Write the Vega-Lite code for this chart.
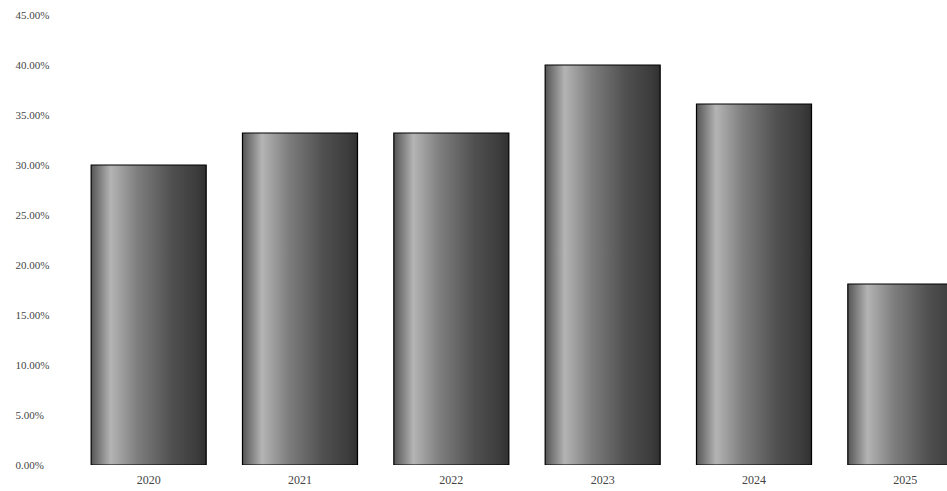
{
  "$schema": "https://vega.github.io/schema/vega-lite/v6.json",
  "autosize": "none",
  "width": 874,
  "height": 450,
  "padding": {"left": 73, "top": 15, "right": 0, "bottom": 26},
  "background": "white",
  "config": {"view": {"stroke": null}, "font": "Liberation Serif"},
  "data": {"values": [
    {"year": "2020", "share": 0.300},
    {"year": "2021", "share": 0.332},
    {"year": "2022", "share": 0.332},
    {"year": "2023", "share": 0.400},
    {"year": "2024", "share": 0.361},
    {"year": "2025", "share": 0.181}
  ]},
  "mark": {
    "type": "bar",
    "clip": true,
    "stroke": "#000000",
    "strokeWidth": 1.2,
    "color": {
      "gradient": "linear", "x1": 0, "x2": 1, "y1": 0, "y2": 0,
      "stops": [
        {"offset": 0, "color": "#555555"},
        {"offset": 0.17, "color": "#b4b4b4"},
        {"offset": 0.4, "color": "#7e7e7e"},
        {"offset": 0.7, "color": "#505050"},
        {"offset": 0.92, "color": "#3c3c3c"},
        {"offset": 1, "color": "#303030"}
      ]
    }
  },
  "encoding": {
    "x": {
      "field": "year", "type": "nominal", "sort": null,
      "scale": {"range": [0, 908], "paddingInner": 0.24, "paddingOuter": 0.12},
      "axis": {"title": null, "domain": false, "ticks": false, "tickSize": 0, "labelAngle": 0,
               "labelPadding": 9, "labelFontSize": 12, "labelColor": "#444444"}
    },
    "y": {
      "field": "share", "type": "quantitative",
      "scale": {"domain": [0, 0.45], "nice": false},
      "axis": {"title": null, "domain": false, "ticks": false, "tickSize": 0, "grid": false,
               "values": [0, 0.05, 0.1, 0.15, 0.2, 0.25, 0.3, 0.35, 0.4, 0.45],
               "format": ".2%", "labelAlign": "left", "labelPadding": 58,
               "labelFontSize": 11, "labelColor": "#444444"}
    }
  }
}
